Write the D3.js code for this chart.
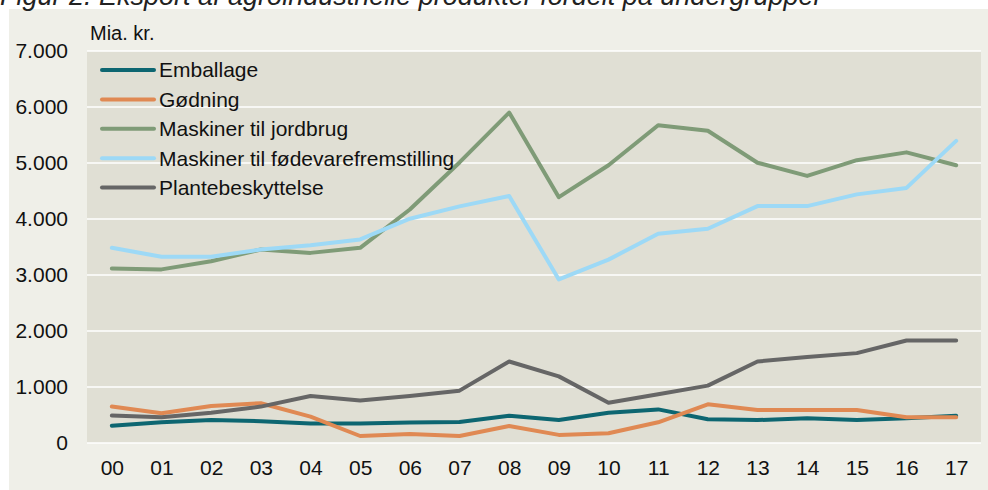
<!DOCTYPE html>
<html>
<head>
<meta charset="utf-8">
<script src="https://cdn.jsdelivr.net/npm/d3@7"></script>
<style>
  body { margin: 0; background: #ffffff; }
  svg { display: block; font-family: "Liberation Sans", Arial, sans-serif; }
</style>
</head>
<body>
<script>
const years = ["00","01","02","03","04","05","06","07","08","09","10","11","12","13","14","15","16","17"];
const yTicks = [0, 1000, 2000, 3000, 4000, 5000, 6000, 7000];

const emballage = [310, 370, 410, 390, 350, 350, 365, 375, 485, 410, 540, 600, 425, 410, 440, 410, 440, 485];
const godning = [650, 530, 660, 710, 470, 125, 160, 125, 305, 145, 175, 370, 690, 590, 590, 590, 460, 460];
const jordbrug = [3115, 3100, 3245, 3455, 3395, 3485, 4170, 5010, 5900, 4390, 4960, 5675, 5575, 5005, 4770, 5050, 5190, 4960];
const fodevare = [3485, 3325, 3325, 3455, 3530, 3635, 4005, 4225, 4410, 2920, 3275, 3735, 3825, 4230, 4230, 4440, 4555, 5395];
const plante = [490, 460, 540, 650, 840, 760, 840, 935, 1455, 1190, 720, 870, 1025, 1455, 1535, 1605, 1830, 1830];

const seriesNames = ["Emballage", "Gødning", "Maskiner til jordbrug", "Maskiner til fødevarefremstilling", "Plantebeskyttelse"];
const seriesColors = ["#0d6671", "#e08953", "#7f9b77", "#9dd9f6", "#666666"];
const seriesValues = [emballage, godning, jordbrug, fodevare, plante];

const width = 988;
const height = 490;
const plot = { left: 87, right: 981, top: 51, bottom: 443 };

const svg = d3.select("body").append("svg")
    .attr("width", width).attr("height", height);

// outer panel
svg.append("rect")
    .attr("x", 9).attr("y", 9).attr("width", width - 9).attr("height", height - 9)
    .attr("fill", "#efefe8");

// title, cut at the top as in the source
svg.append("text")
    .attr("x", 0).attr("y", 5)
    .attr("font-size", 27).attr("font-style", "italic").attr("fill", "#222")
    .text("Figur 2. Eksport af agroindustrielle produkter fordelt på undergrupper");

svg.append("rect")
    .attr("x", plot.left).attr("y", plot.top)
    .attr("width", plot.right - plot.left).attr("height", plot.bottom - plot.top)
    .attr("fill", "#e0dfd4");

const x = d3.scalePoint().domain(years).range([plot.left, plot.right]).padding(0.5);
const y = d3.scaleLinear().domain([0, 7000]).range([plot.bottom, plot.top]);

// gridlines
svg.append("g").selectAll("line").data(yTicks).enter().append("line")
    .attr("x1", plot.left).attr("x2", plot.right)
    .attr("y1", d => y(d)).attr("y2", d => y(d))
    .attr("stroke", "#ffffff").attr("stroke-width", 1.5);

// y axis labels
const yAxis = d3.axisLeft(y).tickValues(yTicks).tickSize(0).tickPadding(19)
    .tickFormat(d => d === 0 ? "0" : d3.format(",")(d).replace(/,/g, "."));
const gy = svg.append("g").attr("transform", "translate(" + plot.left + ",0)").call(yAxis);
gy.select(".domain").remove();
gy.selectAll("text").attr("font-size", 21).attr("fill", "#111").attr("font-family", null);

// x axis labels
const xAxis = d3.axisBottom(x).tickSize(0).tickPadding(17);
const gx = svg.append("g").attr("transform", "translate(0," + plot.bottom + ")").call(xAxis);
gx.select(".domain").remove();
gx.selectAll("text").attr("font-size", 21).attr("fill", "#111").attr("font-family", null);

svg.append("text")
    .attr("x", 90).attr("y", 40)
    .attr("font-size", 20).attr("fill", "#111")
    .text("Mia. kr.");

const line = d3.line().x((d, i) => x(years[i])).y(d => y(d));

svg.append("g").selectAll("path").data(seriesValues).enter().append("path")
    .attr("d", d => line(d))
    .attr("fill", "none")
    .attr("stroke", (d, i) => seriesColors[i])
    .attr("stroke-width", 4)
    .attr("stroke-linejoin", "round")
    .attr("stroke-linecap", "round");

// legend
const legend = svg.append("g").selectAll("g").data(seriesNames).enter().append("g")
    .attr("transform", (d, i) => "translate(100," + (70 + i * 29.4) + ")");
legend.append("line")
    .attr("x1", 2).attr("x2", 54)
    .attr("stroke", (d, i) => seriesColors[i])
    .attr("stroke-width", 4).attr("stroke-linecap", "round");
legend.append("text")
    .attr("x", 59).attr("dy", "0.35em")
    .attr("font-size", 21).attr("fill", "#111")
    .text(d => d);
</script>
</body>
</html>
